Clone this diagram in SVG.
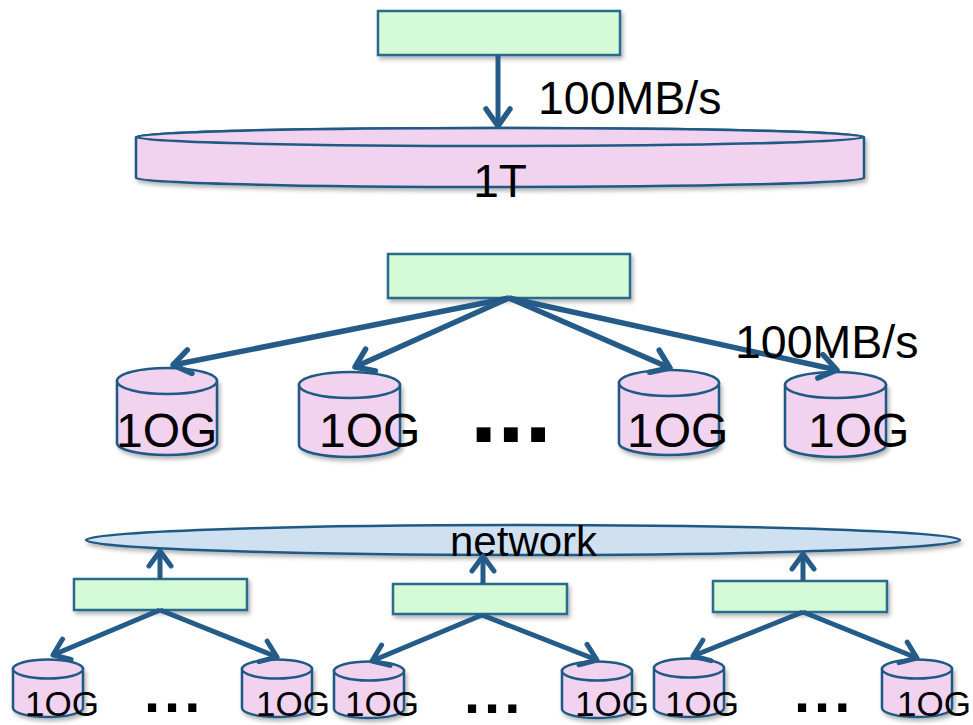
<svg xmlns="http://www.w3.org/2000/svg" width="973" height="725" viewBox="0 0 973 725">
<defs>
<filter id="sh" x="-10%" y="-20%" width="120%" height="160%">
<feDropShadow dx="2" dy="3" stdDeviation="2" flood-color="#000" flood-opacity="0.3"/>
</filter>
<marker id="ah" markerUnits="userSpaceOnUse" markerWidth="40" markerHeight="40" viewBox="-25 -20 30 40" refX="0" refY="0" orient="auto">
<path d="M-17,-12 L0,0 L-17,12" fill="none" stroke="#245b88" stroke-width="5.5" stroke-linecap="round" stroke-linejoin="round"/>
</marker>
<marker id="ahs" markerUnits="userSpaceOnUse" markerWidth="40" markerHeight="40" viewBox="-25 -20 30 40" refX="0" refY="0" orient="auto">
<path d="M-15,-11 L0,0 L-15,11" fill="none" stroke="#245b88" stroke-width="5" stroke-linecap="round" stroke-linejoin="round"/>
</marker>
</defs>
<style>
.box{fill:#d4fbd5;stroke:#2a6a8e;stroke-width:2.5}
.disk{fill:#f1d2ef;stroke:#1f5a85;stroke-width:2.5}
.net{fill:#cfe0f1;stroke:#1f5a85;stroke-width:2.5}
.t{font-family:"Liberation Sans",Arial,sans-serif;fill:#000}
.dots{font-family:"Liberation Sans",Arial,sans-serif;font-weight:bold;fill:#000}
.c{fill:none;stroke:#245b88;stroke-width:5}
.cm{fill:none;stroke:#245b88;stroke-width:5.5}
</style>

<g id="top-box"><rect class="box" x="378" y="11" width="242" height="44" filter="url(#sh)"/></g>
<g id="disk-1T">
<path class="disk" filter="url(#sh)" d="M136,137 L136,178 A364,9 0 0 0 864,178 L864,137 A364,9 0 0 0 136,137 Z"/>
<ellipse class="disk" cx="500" cy="137" rx="364" ry="9"/>
<text class="t" x="500" y="197" font-size="46" text-anchor="middle">1T</text>
</g>

<g id="mid-box"><rect class="box" x="388" y="254" width="242" height="44" filter="url(#sh)"/></g>

<g id="cyl-m1">
<path class="disk" filter="url(#sh)" d="M117,381 L117,443 A50,12 0 0 0 217,443 L217,381 Z"/>
<ellipse class="disk" cx="167" cy="381" rx="50" ry="13"/>
<text class="t" x="116" y="447" font-size="48">1OG</text>
</g>
<g id="cyl-m2">
<path class="disk" filter="url(#sh)" d="M299,385 L299,445 A50.5,12 0 0 0 400,445 L400,385 Z"/>
<ellipse class="disk" cx="349.5" cy="385" rx="50.5" ry="13"/>
<text class="t" x="319" y="447" font-size="48">1OG</text>
</g>
<g id="cyl-m3">
<path class="disk" filter="url(#sh)" d="M619,383 L619,443 A50,12 0 0 0 719,443 L719,383 Z"/>
<ellipse class="disk" cx="669" cy="383" rx="50" ry="13"/>
<text class="t" x="627" y="447" font-size="48">1OG</text>
</g>
<g id="cyl-m4">
<path class="disk" filter="url(#sh)" d="M785,385 L785,445 A50.5,12 0 0 0 886,445 L886,385 Z"/>
<ellipse class="disk" cx="835.5" cy="385" rx="50.5" ry="13"/>
<text class="t" x="808" y="447" font-size="48">1OG</text>
</g>
<text class="dots" x="470" y="442" font-size="98">...</text>

<g id="network">
<ellipse class="net" cx="523" cy="540" rx="437" ry="15" filter="url(#sh)"/>
<text class="t" x="450" y="556" font-size="42">network</text>
</g>

<g id="box-b1"><rect class="box" x="74" y="579" width="173" height="31" filter="url(#sh)"/></g>
<g id="box-b2"><rect class="box" x="393" y="584" width="174" height="30" filter="url(#sh)"/></g>
<g id="box-b3"><rect class="box" x="713" y="581" width="174" height="31" filter="url(#sh)"/></g>

<g id="cyl-b1">
<path class="disk" filter="url(#sh)" d="M13,669 L13,708 A35,9 0 0 0 83,708 L83,669 Z"/>
<ellipse class="disk" cx="48" cy="669" rx="35" ry="9.5"/>
</g>
<g id="cyl-b2">
<path class="disk" filter="url(#sh)" d="M242,669 L242,708 A35,9 0 0 0 312,708 L312,669 Z"/>
<ellipse class="disk" cx="277" cy="669" rx="35" ry="9.5"/>
</g>
<g id="cyl-b3">
<path class="disk" filter="url(#sh)" d="M334,671 L334,709 A35,9 0 0 0 404,709 L404,671 Z"/>
<ellipse class="disk" cx="369" cy="671" rx="35" ry="9.5"/>
</g>
<g id="cyl-b4">
<path class="disk" filter="url(#sh)" d="M562,671 L562,709 A35,9 0 0 0 632,709 L632,671 Z"/>
<ellipse class="disk" cx="597" cy="671" rx="35" ry="9.5"/>
</g>
<g id="cyl-b5">
<path class="disk" filter="url(#sh)" d="M654,668 L654,708 A35,9 0 0 0 724,708 L724,668 Z"/>
<ellipse class="disk" cx="689" cy="668" rx="35" ry="9.5"/>
</g>
<g id="cyl-b6">
<path class="disk" filter="url(#sh)" d="M882,669 L882,708 A35,9 0 0 0 952,708 L952,669 Z"/>
<ellipse class="disk" cx="917" cy="669" rx="35" ry="9.5"/>
</g>

<g id="connectors">
<line class="c" x1="498" y1="55" x2="498" y2="126" marker-end="url(#ah)"/>
<line class="cm" x1="509" y1="298" x2="173" y2="365" marker-end="url(#ah)"/>
<line class="cm" x1="509" y1="298" x2="355" y2="367" marker-end="url(#ah)"/>
<line class="cm" x1="509" y1="298" x2="670" y2="368" marker-end="url(#ah)"/>
<line class="cm" x1="509" y1="298" x2="837" y2="370" marker-end="url(#ah)"/>
<line class="c" x1="160" y1="579" x2="160" y2="551" marker-end="url(#ahs)"/>
<line class="c" x1="483" y1="584" x2="483" y2="556" marker-end="url(#ahs)"/>
<line class="c" x1="803" y1="581" x2="803" y2="554" marker-end="url(#ahs)"/>
<line class="c" x1="160" y1="610" x2="53" y2="655" marker-end="url(#ahs)"/>
<line class="c" x1="160" y1="610" x2="277" y2="657" marker-end="url(#ahs)"/>
<line class="c" x1="482" y1="615" x2="372" y2="661" marker-end="url(#ahs)"/>
<line class="c" x1="482" y1="615" x2="597" y2="660" marker-end="url(#ahs)"/>
<line class="c" x1="803" y1="612" x2="693" y2="656" marker-end="url(#ahs)"/>
<line class="c" x1="803" y1="612" x2="917" y2="658" marker-end="url(#ahs)"/>
</g>

<text class="t" x="538" y="114" font-size="46.5">100MB/s</text>
<text class="t" x="735" y="358" font-size="46.5">100MB/s</text>

<text class="t" x="25" y="716" font-size="35">1OG</text>
<text class="t" x="256" y="716" font-size="35">1OG</text>
<text class="t" x="345" y="716" font-size="35">1OG</text>
<text class="t" x="575" y="716" font-size="35">1OG</text>
<text class="t" x="665" y="716" font-size="35">1OG</text>
<text class="t" x="897" y="716" font-size="35">1OG</text>
<text class="dots" x="144" y="712" font-size="58" letter-spacing="4">...</text>
<text class="dots" x="464" y="713" font-size="58" letter-spacing="4">...</text>
<text class="dots" x="794" y="712" font-size="58" letter-spacing="4">...</text>
</svg>
